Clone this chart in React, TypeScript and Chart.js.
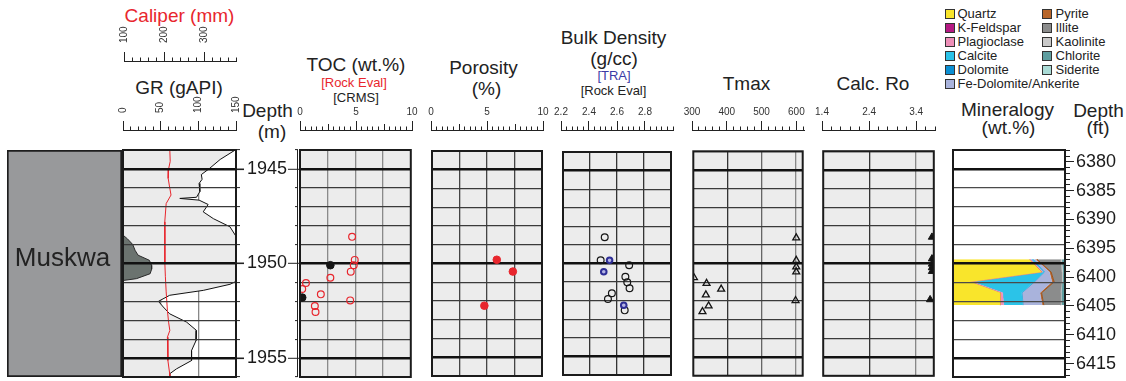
import React, { useEffect, useRef } from 'react';
import { Chart, registerables } from 'chart.js';

Chart.register(...registerables);

const FONT = "'Liberation Sans', Arial, Helvetica, sans-serif";
Chart.defaults.font.family = FONT;

// ---------------- depth reference ----------------
const DEPTH_TOP_M = 1944;
const DEPTH_BASE_M = 1956;
const M_TO_FT = 3.28084;
const DEPTH_LABELS_M = [1945, 1950, 1955];
const DEPTH_LABELS_FT = [6380, 6385, 6390, 6395, 6400, 6405, 6410, 6415];

// ---------------- formation ----------------
const FORMATION_NAMES = ['Muskwa'];
const FORMATION_TOPS = [1944];
const FORMATION_BASES = [1956];

// ---------------- logs ----------------
const GR_DEPTHS = [1944.0, 1944.5, 1944.97, 1945.3, 1945.55, 1945.77, 1946.2, 1946.5, 1946.56, 1946.65, 1946.88, 1947.27, 1947.63, 1948.06, 1948.5, 1948.85, 1949.5, 1950.3, 1950.89, 1951.1, 1951.42, 1951.68, 1952.0, 1952.3, 1952.66, 1953.1, 1953.54, 1954.07, 1954.6, 1955.13, 1955.57, 1955.83, 1956.0];
const GR_VALUES = [149, 129, 115, 104, 105, 101, 102, 97.6, 75.4, 101, 113, 106.5, 120, 142, 149, 154, 154, 154, 153, 142, 106.6, 62, 47, 53.5, 62, 84.5, 97.6, 97, 91, 91, 71, 62, 62];

const CALIPER_DEPTHS = [1944, 1944.6, 1945.0, 1945.5, 1945.9, 1946.38, 1946.83, 1947.8, 1949, 1950, 1950.7, 1951.5, 1952.48, 1953.1, 1953.54, 1953.9, 1954.5, 1955.13, 1955.83, 1956];
const CALIPER_VALUES = [216, 217, 213, 212, 215, 219, 207, 203.5, 203.5, 204, 205, 207, 210, 213, 216, 210, 211, 211.5, 215.7, 216];

const SHADE_DEPTHS = [1948.5, 1948.7, 1949.0, 1949.3, 1949.56, 1949.83, 1950.1, 1950.3, 1950.54, 1950.8, 1950.9];
const SHADE_VALUES = [0, 6, 13, 16, 20, 35, 38, 38, 36, 18, 0];

// ---------------- samples ----------------
const TOC_RE_DEPTHS = [1948.59, 1949.81, 1950.09, 1950.43, 1950.75, 1951.03, 1951.35, 1951.63, 1951.95, 1952.25, 1952.56];
const TOC_RE_VALUES = [4.7, 4.94, 4.85, 4.58, 2.74, 0.54, 0.2, 1.88, 4.53, 1.34, 1.4];
const TOC_CRMS_DEPTHS = [1950.09, 1951.8];
const TOC_CRMS_VALUES = [2.74, 0.2];

const POR_DEPTHS = [1949.8, 1950.43, 1952.25];
const POR_VALUES = [5.89, 7.35, 4.76];

const BD_RE_DEPTHS = [1948.59, 1949.83, 1950.09, 1950.71, 1951.01, 1951.33, 1951.6, 1951.91, 1952.52];
const BD_RE_VALUES = [2.509, 2.479, 2.69, 2.662, 2.676, 2.693, 2.562, 2.533, 2.657];
const BD_TRA_DEPTHS = [1949.83, 1950.44, 1952.25];
const BD_TRA_VALUES = [2.545, 2.502, 2.65];

const TMAX_DEPTHS = [1948.63, 1949.83, 1950.18, 1950.45, 1951.98, 1950.76, 1951.06, 1951.37, 1951.68, 1952.27, 1952.57];
const TMAX_VALUES = [603, 603, 603, 603, 601, 302, 339, 382, 337, 345, 327];

const RO_DEPTHS = [1948.59, 1949.75, 1950.03, 1950.22, 1950.42, 1951.93];
const RO_VALUES = [3.76, 3.76, 3.76, 3.76, 3.76, 3.72];

// ---------------- mineralogy (wt.%) ----------------
const MIN_DEPTHS = [1949.78, 1950.45, 1950.97, 1951.55, 1952.2];
const QUARTZ = [68, 79, 15, 42, 42];
const K_FELDSPAR = [0.5, 0.3, 0.3, 0.3, 0.3];
const PLAGIOCLASE = [1, 1, 2, 2, 3];
const CALCITE = [1.5, 1, 55, 17, 17];
const DOLOMITE = [0.5, 0.3, 0.5, 0.3, 0.3];
const FE_DOLOMITE = [2, 4.5, 15.5, 16, 17];
const PYRITE = [1.5, 1.5, 2, 1.5, 1.5];
const ILLITE = [21, 9.4, 6.7, 17, 15];
const KAOLINITE = [1, 1, 0.5, 0.5, 0.5];
const CHLORITE = [2.5, 1.5, 2, 3, 3];
const SIDERITE = [0.5, 0.5, 0.5, 0.4, 0.4];
const MINERAL_NAMES = ['Quartz', 'K-Feldspar', 'Plagioclase', 'Calcite', 'Dolomite', 'Fe-Dolomite/Ankerite', 'Pyrite', 'Illite', 'Kaolinite', 'Chlorite', 'Siderite'];
const MINERAL_VALUES = [QUARTZ, K_FELDSPAR, PLAGIOCLASE, CALCITE, DOLOMITE, FE_DOLOMITE, PYRITE, ILLITE, KAOLINITE, CHLORITE, SIDERITE];
const MINERAL_COLORS = ['#f9e52b', '#b51a83', '#ee8fb8', '#2bc3e8', '#0b8fd3', '#a9b3dc', '#b8662a', '#8b8c8c', '#c9c9c9', '#5e9ea0', '#aadbd6'];
const MINERAL_BORDERS = ['#f9e52b', '#b51a83', '#ee8fb8', '#2bc3e8', '#0b8fd3', '#a9b3dc', '#9c521c', '#8b8c8c', '#c9c9c9', '#5e9ea0', '#aadbd6'];

// ---------------- axis tick labels ----------------
const GR_TICKS = [0, 50, 100, 150];
const CALIPER_TICKS = [100, 200, 300];
const TOC_TICKS = [0, 5, 10];
const POR_TICKS = [0, 5, 10];
const BD_TICKS = [2.2, 2.4, 2.6, 2.8];
const TMAX_TICKS = [300, 400, 500, 600];
const RO_TICKS = [1.4, 2.4, 3.4];

// ---------------- helpers ----------------
const near = (a: number, b: number) => Math.abs(a - b) < 1e-6;
const pts = (xs: number[], ys: number[]) => xs.map((x, i) => ({ x, y: ys[i] }));
const isMajorM = (v: number) => v !== undefined && near(v % 5, 0);

const framePlugin = {
  id: 'trackFrame',
  beforeDraw(chart: any, _a: any, opts: any) {
    if (!opts || !opts.bg) return;
    const { left, top, width, height } = chart.chartArea;
    const ctx = chart.ctx;
    ctx.save();
    ctx.fillStyle = opts.bg;
    ctx.fillRect(left, top, width, height);
    ctx.restore();
  },
  afterDraw(chart: any, _a: any, opts: any) {
    if (!opts || !opts.width) return;
    const { left, top, width, height } = chart.chartArea;
    const ctx = chart.ctx;
    ctx.save();
    ctx.strokeStyle = opts.color || '#1b1b1b';
    ctx.lineWidth = opts.width;
    ctx.strokeRect(left, top, width, height);
    if (opts.axisLineX !== undefined) {
      ctx.lineWidth = 1;
      ctx.strokeStyle = '#222';
      ctx.beginPath();
      ctx.moveTo(left + opts.axisLineX, top);
      ctx.lineTo(left + opts.axisLineX, top + height);
      ctx.stroke();
    }
    ctx.restore();
  },
};

const formationLabelPlugin = {
  id: 'formationLabel',
  afterDatasetsDraw(chart: any) {
    const meta = chart.getDatasetMeta(0);
    const ctx = chart.ctx;
    ctx.save();
    ctx.fillStyle = '#222';
    ctx.font = `26px ${FONT}`;
    ctx.textAlign = 'center';
    ctx.textBaseline = 'middle';
    meta.data.forEach((el: any, i: number) => {
      const cy = (el.y + el.base) / 2 - 5;
      ctx.fillText(FORMATION_NAMES[i], el.x - 2, cy);
    });
    ctx.restore();
  },
};

const meterTicks = () => {
  const t: any[] = [];
  for (let d = DEPTH_TOP_M; d <= DEPTH_BASE_M; d++) t.push({ value: d });
  return t;
};

function depthGrid(lineColor: string, z = 0) {
  return {
    color: (c: any) => (isMajorM(c.tick?.value) ? '#111' : lineColor),
    lineWidth: (c: any) => (isMajorM(c.tick?.value) ? 2.6 : 1.2),
    drawTicks: false,
    z,
  };
}

function depthAxis(lineColor = '#3a3a3a', z = 0): any {
  return {
    type: 'linear',
    min: DEPTH_TOP_M,
    max: DEPTH_BASE_M,
    reverse: true,
    afterBuildTicks: (s: any) => { s.ticks = meterTicks(); },
    ticks: { display: false },
    grid: depthGrid(lineColor, z),
    border: { display: false },
  };
}

function valueAxis(min: number, max: number, lines: number[], colors: string[], extra: any = {}): any {
  return {
    type: 'linear',
    min,
    max,
    afterBuildTicks: (s: any) => { s.ticks = lines.map((v) => ({ value: v })); },
    ticks: { display: false },
    grid: { display: lines.length > 0, color: (c: any) => colors[c.index] || '#888', lineWidth: 1.3, drawTicks: false },
    border: { display: false },
    ...extra,
  };
}

const basePlugins = { legend: { display: false }, tooltip: { enabled: false } };

function scatterTrack(opts: { min: number; max: number; lines: number[]; colors: string[]; datasets: any[] }) {
  return {
    type: 'scatter',
    data: { datasets: opts.datasets },
    options: {
      animation: false,
      responsive: false,
      layout: { padding: 4 },
      plugins: { ...basePlugins, trackFrame: { bg: '#ececec', width: 2 } },
      scales: {
        x: valueAxis(opts.min, opts.max, opts.lines, opts.colors),
        y: depthAxis(),
      },
    },
    plugins: [framePlugin],
  };
}

function headerConfig(o: { min: number; max: number; step: number; labels: number[]; mediums?: number[]; rotated?: boolean; height: number; pad?: number; fmt?: (v: number) => string }) {
  const T = 9;
  const mediums = o.mediums || [];
  const fmt = o.fmt || ((v: number) => String(v));
  const lenFor = (v: number) => (o.labels.some((l) => near(l, v)) ? T : mediums.some((m) => near(m, v)) ? 6 : 3.5);
  return {
    type: 'scatter',
    data: { datasets: [] },
    options: {
      animation: false,
      responsive: false,
      layout: { padding: { left: 20, right: 20, top: 0, bottom: 1 } },
      plugins: basePlugins,
      scales: {
        x: {
          type: 'linear',
          position: 'top',
          min: o.min,
          max: o.max,
          afterBuildTicks: (s: any) => {
            const t: any[] = [];
            const n = Math.floor((o.max - o.min) / o.step + 1e-6);
            for (let i = 0; i <= n; i++) t.push({ value: +(o.min + i * o.step).toFixed(6) });
            s.ticks = t;
          },
          afterFit: (s: any) => { s.height = o.height; },
          grid: {
            drawOnChartArea: false,
            drawTicks: true,
            tickLength: T,
            tickColor: '#222',
            tickWidth: 1,
            tickBorderDash: (c: any) => {
              const L = lenFor(c.tick?.value);
              return L >= T ? [] : [0, T - L, L, 100];
            },
          },
          border: { display: true, color: '#222', width: 1 },
          ticks: {
            autoSkip: false,
            maxRotation: o.rotated ? 90 : 0,
            minRotation: o.rotated ? 90 : 0,
            padding: o.pad !== undefined ? o.pad : 2.5,
            labelOffset: o.rotated ? 12 : 0,
            color: '#333',
            font: { size: 10 },
            callback: (v: any) => {
              const l = o.labels.find((x) => near(x, v));
              return l === undefined ? '' : fmt(l);
            },
          },
        },
        y: { display: false },
      },
    },
  };
}

// ---------------- components ----------------
type Rect = { left: number; top: number; width: number; height: number };

function ChartCanvas({ rect, make }: { rect: Rect; make: () => any }) {
  const ref = useRef<HTMLCanvasElement>(null);
  useEffect(() => {
    const chart = new Chart(ref.current as HTMLCanvasElement, make());
    return () => chart.destroy();
  }, []);
  return (
    <canvas
      ref={ref}
      width={rect.width}
      height={rect.height}
      style={{ position: 'absolute', left: rect.left, top: rect.top, width: rect.width, height: rect.height }}
    />
  );
}

function Txt({ x, y, size = 19, color = '#222', children }: { x: number; y: number; size?: number; color?: string; children: any }) {
  return (
    <div
      style={{
        position: 'absolute',
        left: x,
        top: y,
        transform: 'translate(-50%, -50%)',
        fontSize: size,
        lineHeight: `${size}px`,
        color,
        whiteSpace: 'nowrap',
        fontFamily: FONT,
      }}
    >
      {children}
    </div>
  );
}

const TRACK_TOP = 150;
const TRACK_H = 227;

function Header({ left, width, axisY, height, cfg }: { left: number; width: number; axisY: number; height: number; cfg: any }) {
  return (
    <ChartCanvas
      rect={{ left: left - 20, top: axisY - height, width: width + 40, height: height + 2 }}
      make={() => headerConfig({ ...cfg, height })}
    />
  );
}

function simpleRect(left: number, width: number): Rect {
  return { left: left - 4, top: TRACK_TOP - 4, width: width + 8, height: TRACK_H + 8 };
}

export default function App() {
  const lithoCfg = () => ({
    type: 'bar',
    data: {
      labels: FORMATION_NAMES,
      datasets: [
        {
          data: FORMATION_NAMES.map((_, i) => [FORMATION_TOPS[i], FORMATION_BASES[i]]),
          backgroundColor: '#98999b',
          borderColor: '#1e1e1e',
          borderWidth: 2,
          borderSkipped: false,
          barPercentage: 1,
          categoryPercentage: 1,
        },
      ],
    },
    options: {
      animation: false,
      responsive: false,
      layout: { padding: 0 },
      plugins: basePlugins,
      scales: {
        x: { display: false },
        y: { type: 'linear', min: DEPTH_TOP_M, max: DEPTH_BASE_M, reverse: true, display: false },
      },
    },
    plugins: [formationLabelPlugin],
  });

  const grCfg = () => ({
    type: 'line',
    data: {
      datasets: [
        { data: pts(CALIPER_VALUES, CALIPER_DEPTHS), xAxisID: 'xcal', borderColor: '#e8262d', borderWidth: 1, pointRadius: 0, fill: false },
        { data: pts(SHADE_VALUES, SHADE_DEPTHS), borderColor: '#2a2a2a', borderWidth: 1, backgroundColor: '#6b736f', fill: 'origin', pointRadius: 0 },
        { data: pts(GR_VALUES, GR_DEPTHS), borderColor: '#111', borderWidth: 1, backgroundColor: '#ebebeb', fill: 'origin', pointRadius: 0 },
      ],
    },
    options: {
      indexAxis: 'y',
      animation: false,
      responsive: false,
      layout: { padding: 4 },
      plugins: { ...basePlugins, trackFrame: { width: 2 } },
      scales: {
        x: valueAxis(0, 150, [50, 100], ['#888', '#888']),
        xcal: { type: 'linear', min: 100, max: 380, display: false },
        y: {
          ...depthAxis('#3a3a3a', 1),
          position: 'right',
          afterFit: (s: any) => { s.width = 8; },
          grid: {
            ...depthGrid('#3a3a3a', 1),
            drawTicks: true,
            tickLength: 8,
            tickColor: '#222',
            tickWidth: (c: any) => (isMajorM(c.tick?.value) ? 1.6 : 1),
            tickBorderDash: (c: any) => (isMajorM(c.tick?.value) ? [] : [4, 100]),
          },
        },
      },
    },
    plugins: [framePlugin],
  });

  const tocCfg = () => {
    const c: any = scatterTrack({
      min: 0,
      max: 10,
      lines: [2.5, 5, 7.5],
      colors: ['#8a8a8a', '#8a8a8a', '#8a8a8a'],
      datasets: [
        { data: pts(TOC_CRMS_VALUES, TOC_CRMS_DEPTHS), pointRadius: 3.8, pointBackgroundColor: '#151515', pointBorderColor: '#151515', pointBorderWidth: 1 },
        { data: pts(TOC_RE_VALUES, TOC_RE_DEPTHS), pointRadius: 3.4, pointBackgroundColor: 'rgba(0,0,0,0)', pointBorderColor: '#e8262d', pointBorderWidth: 1.2 },
      ],
    });
    c.options.layout = { padding: { left: 2, right: 4, top: 14, bottom: 14 } };
    c.options.plugins.trackFrame = { bg: '#ececec', width: 2, axisLineX: -2.5 };
    c.options.scales.y = {
      ...depthAxis(),
      position: 'left',
      afterFit: (s: any) => { s.width = 58; },
      ticks: {
        display: true,
        autoSkip: false,
        padding: 1,
        color: '#1a1a1a',
        font: { size: 18 },
        callback: (v: any) => (DEPTH_LABELS_M.some((d) => near(d, v)) ? String(v) : ''),
      },
      grid: {
        ...depthGrid('#3a3a3a'),
        drawTicks: true,
        tickLength: 12,
        tickColor: '#222',
        tickWidth: 1,
        tickBorderDash: (cx: any) => (isMajorM(cx.tick?.value) ? [] : [0, 7, 3, 100]),
      },
    };
    return c;
  };

  const porCfg = () =>
    scatterTrack({
      min: 0,
      max: 10,
      lines: [2.5, 5, 7.5],
      colors: ['#444', '#444', '#444'],
      datasets: [{ data: pts(POR_VALUES, POR_DEPTHS), pointRadius: 3.8, pointBackgroundColor: '#e8262d', pointBorderColor: '#e8262d', pointBorderWidth: 1 }],
    });

  const bdCfg = () =>
    scatterTrack({
      min: 2.2,
      max: 3.0,
      lines: [2.4, 2.6, 2.8],
      colors: ['#333', '#333', '#333'],
      datasets: [
        { data: pts(BD_TRA_VALUES, BD_TRA_DEPTHS), pointRadius: 2.8, pointBackgroundColor: '#b4b4e4', pointBorderColor: '#2e2e96', pointBorderWidth: 2 },
        { data: pts(BD_RE_VALUES, BD_RE_DEPTHS), pointRadius: 3.4, pointBackgroundColor: 'rgba(0,0,0,0)', pointBorderColor: '#151515', pointBorderWidth: 1.2 },
      ],
    });

  const tmaxCfg = () =>
    scatterTrack({
      min: 300,
      max: 622,
      lines: [400, 500, 600],
      colors: ['#333', '#666', '#888'],
      datasets: [{ data: pts(TMAX_VALUES, TMAX_DEPTHS), pointStyle: 'triangle', pointRadius: 4, pointBackgroundColor: 'rgba(0,0,0,0)', pointBorderColor: '#151515', pointBorderWidth: 1.3 }],
    });

  const roCfg = () =>
    scatterTrack({
      min: 1.4,
      max: 3.8,
      lines: [2.4, 3.4],
      colors: ['#333', '#888'],
      datasets: [{ data: pts(RO_VALUES, RO_DEPTHS), pointStyle: 'triangle', pointRadius: 4.2, pointBackgroundColor: '#151515', pointBorderColor: '#151515', pointBorderWidth: 1 }],
    });

  const minCfg = () => ({
    type: 'line',
    data: {
      datasets: MINERAL_NAMES.map((name, i) => ({
        label: name,
        data: pts(MINERAL_VALUES[i], MIN_DEPTHS),
        backgroundColor: MINERAL_COLORS[i],
        borderColor: MINERAL_BORDERS[i],
        borderWidth: i === 6 ? 1 : 0.5,
        pointRadius: 0,
        fill: i === 0 ? 'origin' : '-1',
        tension: 0,
      })),
    },
    options: {
      indexAxis: 'y',
      animation: false,
      responsive: false,
      layout: { padding: { left: 4, right: 0, top: 14, bottom: 14 } },
      plugins: { ...basePlugins, trackFrame: { width: 2 } },
      scales: {
        x: valueAxis(0, 100, [], [], { stacked: true }),
        y: { ...depthAxis('#4a4a4a', 1), position: 'left' },
        yft: {
          type: 'linear',
          position: 'right',
          min: DEPTH_TOP_M * M_TO_FT,
          max: DEPTH_BASE_M * M_TO_FT,
          reverse: true,
          afterBuildTicks: (s: any) => {
            const t: any[] = [];
            for (let f = Math.ceil(s.min); f <= Math.floor(s.max); f++) t.push({ value: f });
            s.ticks = t;
          },
          afterFit: (s: any) => { s.width = 60; },
          grid: {
            drawOnChartArea: false,
            drawTicks: true,
            tickLength: 9,
            tickColor: '#222',
            tickWidth: 1,
            tickBorderDash: (c: any) => (DEPTH_LABELS_FT.includes(c.tick?.value) ? [] : [4, 100]),
          },
          border: { display: true, color: '#222', width: 1 },
          ticks: {
            autoSkip: false,
            padding: 2,
            color: '#1a1a1a',
            font: { size: 18 },
            callback: (v: any) => (DEPTH_LABELS_FT.includes(v) ? String(v) : ''),
          },
        },
      },
    },
    plugins: [framePlugin],
  });

  const legendCol1 = MINERAL_NAMES.slice(0, 6).map((n, i) => ({ n, c: MINERAL_COLORS[i] }));
  const legendCol2 = MINERAL_NAMES.slice(6).map((n, i) => ({ n, c: MINERAL_COLORS[i + 6] }));

  const legendItem = (n: string, c: string, x: number, y: number, tx: number) => (
    <React.Fragment key={n}>
      <div style={{ position: 'absolute', left: x, top: y - 5, width: 10, height: 10, background: c, border: '1px solid #333', boxSizing: 'border-box' }} />
      <div style={{ position: 'absolute', left: tx, top: y - 7.5, fontSize: 13, lineHeight: '15px', color: '#222', whiteSpace: 'nowrap', fontFamily: FONT }}>{n}</div>
    </React.Fragment>
  );

  return (
    <div style={{ position: 'absolute', left: 0, top: 0, width: 1126, height: 381, background: '#fff', overflow: 'hidden', fontFamily: FONT }}>
      {/* titles */}
      <Txt x={179.5} y={14.5} color="#e8262d">Caliper (mm)</Txt>
      <Txt x={179} y={87}>GR (gAPI)</Txt>
      <Txt x={267.5} y={110}>Depth</Txt>
      <Txt x={272} y={131}>(m)</Txt>
      <Txt x={356} y={63.5}>TOC (wt.%)</Txt>
      <Txt x={354} y={82} size={13} color="#e8262d">[Rock Eval]</Txt>
      <Txt x={356} y={96.5} size={13}>[CRMS]</Txt>
      <Txt x={483.5} y={67}>Porosity</Txt>
      <Txt x={486.5} y={88}>(%)</Txt>
      <Txt x={613.5} y={36.5}>Bulk Density</Txt>
      <Txt x={614} y={58}>(g/cc)</Txt>
      <Txt x={614} y={75} size={13} color="#3b3ba6">[TRA]</Txt>
      <Txt x={613.5} y={89.5} size={13}>[Rock Eval]</Txt>
      <Txt x={746.5} y={82.5}>Tmax</Txt>
      <Txt x={873} y={82.5}>Calc. Ro</Txt>
      <Txt x={1007.5} y={109}>Mineralogy</Txt>
      <Txt x={1008.5} y={127}>(wt.%)</Txt>
      <Txt x={1098.5} y={110}>Depth</Txt>
      <Txt x={1098} y={127}>(ft)</Txt>

      {/* legend */}
      {legendCol1.map((it, i) => legendItem(it.n, it.c, 945, 13.5 + 14 * i, 957.5))}
      {legendCol2.map((it, i) => legendItem(it.n, it.c, 1042, 13.5 + 14 * i, 1055.5))}

      {/* header axes */}
      <Header left={123} width={113} axisY={61} height={40} cfg={{ min: 100, max: 380, step: 20, labels: CALIPER_TICKS, rotated: true, pad: 9 }} />
      <Header left={123} width={113} axisY={130} height={40} cfg={{ min: 0, max: 150, step: 10, labels: GR_TICKS, rotated: true, pad: 8 }} />
      <Header left={300} width={112} axisY={130} height={30} cfg={{ min: 0, max: 10, step: 0.5, labels: TOC_TICKS, mediums: [2.5, 7.5] }} />
      <Header left={431} width={112} axisY={130} height={30} cfg={{ min: 0, max: 10, step: 0.5, labels: POR_TICKS, mediums: [2.5, 7.5] }} />
      <Header left={561} width={112} axisY={130} height={30} cfg={{ min: 2.2, max: 3.0, step: 0.04, labels: BD_TICKS, fmt: (v: number) => v.toFixed(1) }} />
      <Header left={692} width={112} axisY={130} height={30} cfg={{ min: 300, max: 622, step: 20, labels: TMAX_TICKS }} />
      <Header left={822} width={113} axisY={130} height={30} cfg={{ min: 1.4, max: 3.8, step: 0.2, labels: RO_TICKS, fmt: (v: number) => v.toFixed(1) }} />

      {/* tracks */}
      <ChartCanvas rect={{ left: 7, top: TRACK_TOP, width: 115, height: TRACK_H }} make={lithoCfg} />
      <ChartCanvas rect={{ left: 119, top: TRACK_TOP - 4, width: 129, height: TRACK_H + 8 }} make={grCfg} />
      <ChartCanvas rect={{ left: 240, top: TRACK_TOP - 14, width: 176, height: TRACK_H + 28 }} make={tocCfg} />
      <ChartCanvas rect={simpleRect(431, 112)} make={porCfg} />
      <ChartCanvas rect={simpleRect(561, 112)} make={bdCfg} />
      <ChartCanvas rect={simpleRect(692, 112)} make={tmaxCfg} />
      <ChartCanvas rect={simpleRect(822, 113)} make={roCfg} />
      <ChartCanvas rect={{ left: 949, top: TRACK_TOP - 14, width: 176, height: TRACK_H + 28 }} make={minCfg} />
    </div>
  );
}
